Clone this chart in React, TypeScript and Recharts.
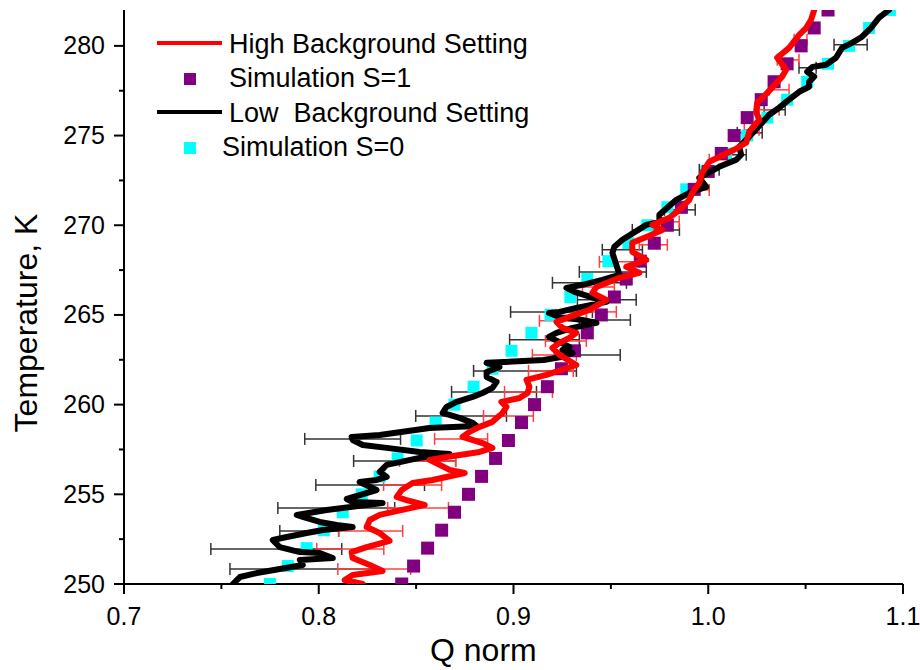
import React from 'react';
import { ComposedChart, Scatter, XAxis, YAxis, ErrorBar } from 'recharts';

// simulated points, one per kelvin
const simTemps = [250, 251, 252, 253, 254, 255, 256, 257, 258, 259, 260, 261, 262, 263, 264, 265, 266,
  267, 268, 269, 270, 271, 272, 273, 274, 275, 276, 277, 278, 279, 280, 281, 282];
const simS1Q = [0.8426, 0.8487, 0.8559, 0.8631, 0.8697, 0.8769, 0.8836, 0.8908, 0.8974, 0.9041, 0.9108,
  0.9174, 0.9246, 0.9313, 0.9379, 0.9451, 0.9518, 0.9579, 0.9651, 0.9723, 0.979, 0.9862, 0.9928, 1.0,
  1.0067, 1.0133, 1.02, 1.0272, 1.0338, 1.0405, 1.0477, 1.0544, 1.0615];
const simS0Q = [0.7749, 0.7841, 0.7938, 0.8026, 0.8123, 0.8221, 0.8313, 0.8405, 0.8503, 0.86, 0.8697,
  0.8795, 0.8892, 0.899, 0.9092, 0.919, 0.9292, 0.9379, 0.9487, 0.959, 0.9687, 0.979, 0.9887, 0.999,
  1.0092, 1.02, 1.0303, 1.0405, 1.0508, 1.0615, 1.0723, 1.0826, 1.0933];

// measured curves
const highBgQ = [0.8226, 0.8133, 0.8174, 0.8328, 0.8262, 0.8174, 0.8169, 0.8246, 0.8364, 0.8313,
  0.8246, 0.8262, 0.8313, 0.8544, 0.8451, 0.84, 0.8426, 0.8482, 0.8585, 0.8749,
  0.8672, 0.8621, 0.8569, 0.8656, 0.8826, 0.8892, 0.8841, 0.8738, 0.8774, 0.8826,
  0.8892, 0.8944, 0.8964, 0.8938, 0.9031, 0.9072, 0.9082, 0.9067, 0.9169, 0.9323,
  0.9236, 0.92, 0.9236, 0.9287, 0.9323, 0.9251, 0.9221, 0.9287, 0.939, 0.9477,
  0.9405, 0.9426, 0.9544, 0.9646, 0.9579, 0.9682, 0.961, 0.961, 0.9682, 0.9764,
  0.9713, 0.98, 0.9851, 0.9903, 0.9918, 0.9954, 0.9969, 1.0005, 1.0133, 1.0195,
  1.021, 1.0262, 1.0246, 1.0251, 1.0303, 1.0379, 1.04, 1.0354, 1.0415, 1.0467,
  1.0503, 1.0528, 1.0544];
const highBgT = [250.0, 250.22, 250.5, 250.73, 251.06, 251.45, 251.78, 252.06, 252.4, 252.84,
  253.18, 253.57, 253.85, 254.41, 254.68, 254.85, 255.24, 255.63, 255.8, 256.19,
  256.36, 256.64, 256.92, 257.08, 257.36, 257.59, 257.86, 258.2, 258.48, 258.76,
  259.04, 259.54, 259.87, 260.15, 260.37, 260.65, 260.99, 261.38, 261.66, 262.21,
  262.77, 263.16, 263.44, 263.72, 264.0, 264.28, 264.61, 264.89, 265.28, 265.84,
  266.23, 266.56, 267.07, 267.35, 267.68, 268.07, 268.52, 269.02, 269.35, 269.74,
  270.02, 270.41, 270.86, 271.42, 271.81, 272.36, 272.92, 273.54, 274.21, 274.6,
  275.21, 275.88, 276.32, 276.83, 277.38, 278.28, 278.67, 279.34, 279.89, 280.62,
  281.01, 281.46, 282.0];

const lowBgQ = [0.7559, 0.7595, 0.7682, 0.7918, 0.7903, 0.8072, 0.8005, 0.7903, 0.78, 0.7764,
  0.7836, 0.7938, 0.8021, 0.8174, 0.8092, 0.8005, 0.7918, 0.7887, 0.8041, 0.8328,
  0.8174, 0.8144, 0.821, 0.8297, 0.821, 0.8297, 0.8349, 0.8313, 0.8349, 0.8518,
  0.8672, 0.8518, 0.8349, 0.8226, 0.8174, 0.8169, 0.8313, 0.8569, 0.881, 0.879,
  0.8723, 0.8636, 0.8656, 0.8708, 0.879, 0.8841, 0.8892, 0.8913, 0.8862, 0.8862,
  0.8928, 0.8862, 0.9154, 0.9251, 0.9303, 0.9251, 0.9287, 0.9182,
  0.9221, 0.9303, 0.9426, 0.9354, 0.9236, 0.9182, 0.9236, 0.9323, 0.9477, 0.9313,
  0.9272, 0.9354, 0.9456, 0.9544, 0.9528, 0.9508, 0.9518, 0.9559, 0.9682, 0.9749,
  0.9749, 0.9836, 0.9903, 0.999, 0.9954, 1.0056, 1.0144, 1.0169, 1.0159, 1.021,
  1.0313, 1.0364, 1.04, 1.0467, 1.0518, 1.0518, 1.0544, 1.0508, 1.0536, 1.0605,
  1.0656, 1.0687, 1.0738, 1.079, 1.0836, 1.0877, 1.0928];
const lowBgT = [250.0, 250.39, 250.61, 251.06, 251.34, 251.45, 251.73, 251.78, 252.06, 252.45,
  252.62, 252.84, 253.01, 253.18, 253.29, 253.46, 253.74, 253.85, 254.13, 254.52,
  254.57, 254.74, 254.96, 255.24, 255.69, 255.8, 255.97, 256.25, 256.64, 257.03,
  257.25, 257.36, 257.59, 257.75, 258.03, 258.2, 258.31, 258.7, 258.81, 258.98,
  259.26, 259.54, 259.87, 260.15, 260.43, 260.65, 260.93, 261.27, 261.54, 261.82,
  262.1, 262.33, 262.49, 262.66, 262.88, 263.05, 263.22, 263.78,
  264.0, 264.28, 264.56, 264.72, 264.89, 265.11, 265.17, 265.39, 265.73, 266.29,
  266.51, 266.68, 266.95, 267.23, 267.79, 268.46, 268.8, 269.19, 270.02, 270.19,
  270.58, 271.42, 271.81, 272.14, 272.64, 273.26, 273.65, 273.93, 274.37, 274.93,
  276.16, 276.55, 276.88, 277.44, 277.72, 278.0, 278.28, 278.56, 278.83, 278.95,
  279.34, 279.89, 280.17, 280.51, 281.01, 281.57, 282.0];

// error bars (centre, half width)
const lowErrT = [250.84, 251.95, 252.96, 254.24, 255.52, 256.86, 258.09, 259.37, 260.71, 261.88, 262.77,
  263.61, 264.72, 265.17, 265.84, 266.79, 267.4, 268.63, 269.74, 270.86, 273.09, 273.93, 275.15,
  276.44, 278.78, 280.06];
const lowErrQ = [0.7903, 0.7782, 0.7951, 0.809, 0.8264, 0.8441, 0.8174, 0.8731, 0.89, 0.9059, 0.9379,
  0.9159, 0.9469, 0.9195, 0.9479, 0.939, 0.951, 0.9559, 0.9731, 0.9854, 1.0005, 1.0151, 1.0213,
  1.0341, 1.051, 1.0731];
const lowErr = [0.0359, 0.0336, 0.0151, 0.03, 0.0279, 0.0262, 0.0246, 0.0233, 0.0218, 0.0264, 0.0169,
  0.0179, 0.0131, 0.021, 0.0151, 0.019, 0.0172, 0.0103, 0.0121, 0.0079, 0.0051, 0.0044, 0.0064,
  0.0054, 0.0044, 0.0085];

const highErrT = [250.84, 251.95, 252.96, 254.24, 255.52, 256.86, 258.09, 259.37, 260.71, 261.88, 262.77,
  263.55, 264.67, 265.17, 266.56, 267.96, 268.91, 270.19, 271.97, 273.65, 275.32, 276.44, 277.55,
  279.22, 280.34];
const highErrQ = [0.8285, 0.8162, 0.8267, 0.851, 0.8482, 0.8559, 0.8731, 0.8974, 0.9077, 0.9192, 0.921,
  0.9269, 0.9254, 0.9451, 0.9436, 0.9544, 0.9718, 0.98, 0.9949, 1.0056, 1.0223, 1.0313, 1.0364,
  1.041, 1.0474];
const highErr = [0.0187, 0.0172, 0.0164, 0.0156, 0.0149, 0.0144, 0.0136, 0.0128, 0.0123, 0.0115, 0.0113,
  0.0105, 0.0121, 0.0077, 0.0082, 0.0103, 0.0072, 0.0051, 0.0056, 0.0051, 0.0038, 0.0051, 0.0051,
  0.0056, 0.0033];

const qTicks = [0.7, 0.75, 0.8, 0.85, 0.9, 0.95, 1.0, 1.05, 1.1];
const tTicks = [250, 252.5, 255, 257.5, 260, 262.5, 265, 267.5, 270, 272.5, 275, 277.5, 280];

const zip = (qs: number[], ts: number[], es?: number[]) =>
  qs.map((q, i) => ({ q, T: ts[i], e: es ? es[i] : 0 }));

const FONT = '"Liberation Sans", Arial, sans-serif';
const isMajorQ = (v: number) => Math.abs(v * 10 - Math.round(v * 10)) < 1e-6;
const isMajorT = (v: number) => Math.abs(v / 5 - Math.round(v / 5)) < 1e-6;

const BottomTick = (p: any) => {
  const v = p.payload.value;
  const major = isMajorQ(v);
  return (
    <g>
      <line x1={p.x} x2={p.x} y1={p.y} y2={p.y + (major ? 10 : 5)} stroke="#000" strokeWidth={2} />
      {major && (
        <text x={p.x} y={p.y + 41} textAnchor="middle" fontSize={25} fontFamily={FONT} fill="#000">
          {v.toFixed(1)}
        </text>
      )}
    </g>
  );
};

const TopTick = (p: any) => (
  <line x1={p.x} x2={p.x} y1={p.y} y2={p.y + 12} stroke="#000" strokeWidth={2} />
);

const LeftTick = (p: any) => {
  const v = p.payload.value;
  const major = isMajorT(v);
  return (
    <g>
      <line x1={p.x} x2={p.x - (major ? 10 : 5)} y1={p.y} y2={p.y} stroke="#000" strokeWidth={2} />
      {major && (
        <text x={p.x - 19} y={p.y + 8.5} textAnchor="end" fontSize={25} fontFamily={FONT} fill="#000">
          {v}
        </text>
      )}
    </g>
  );
};

const RightTick = (p: any) => (
  <line x1={p.x} x2={p.x - 6} y1={p.y} y2={p.y} stroke="#000" strokeWidth={2} />
);

const square = (color: string, size: number) => (p: any) =>
  <rect x={p.cx - size / 2} y={p.cy - size / 2} width={size} height={size} fill={color} />;

const noDot = () => <g />;

export default function App() {
  return (
    <div style={{ position: 'absolute', left: 0, top: 0, width: 920, height: 670, background: '#fff' }}>
      <ComposedChart width={920} height={670} margin={{ top: 10, right: 17, left: 0, bottom: 0 }}>
        <XAxis xAxisId="b" dataKey="q" type="number" domain={[0.7, 1.1]} ticks={qTicks} interval={0}
          allowDataOverflow height={86} tickSize={0} tickMargin={0} tickLine={false}
          axisLine={{ stroke: '#000', strokeWidth: 2 }} tick={BottomTick} />
        <XAxis xAxisId="t" orientation="top" type="number" domain={[0.7, 1.1]} ticks={qTicks} interval={0}
          allowDataOverflow height={0} tickSize={0} tickMargin={0} tickLine={false}
          axisLine={{ stroke: '#000', strokeWidth: 2 }} tick={TopTick} />
        <YAxis yAxisId="l" dataKey="T" type="number" domain={[250, 282]} ticks={tTicks} interval={0}
          allowDataOverflow width={124} tickSize={0} tickMargin={0} tickLine={false}
          axisLine={{ stroke: '#000', strokeWidth: 2 }} tick={LeftTick} />
        <YAxis yAxisId="r" orientation="right" type="number" domain={[250, 282]} ticks={tTicks} interval={0}
          allowDataOverflow width={0} tickSize={0} tickMargin={0} tickLine={false}
          axisLine={{ stroke: '#000', strokeWidth: 2 }} tick={RightTick} />

        <Scatter xAxisId="b" yAxisId="l" data={zip(simS0Q, simTemps)} shape={square('#00ffff', 12)}
          isAnimationActive={false} />
        <Scatter xAxisId="b" yAxisId="l" data={zip(simS1Q, simTemps)} shape={square('#800080', 13)}
          isAnimationActive={false} />

        <Scatter xAxisId="b" yAxisId="l" data={zip(lowErrQ, lowErrT, lowErr)} shape={noDot}
          isAnimationActive={false}>
          <ErrorBar dataKey="e" direction="x" width={6} stroke="#333" strokeWidth={1.5} isAnimationActive={false} />
        </Scatter>
        <Scatter xAxisId="b" yAxisId="l" data={zip(lowBgQ, lowBgT)} shape={noDot}
          line={{ stroke: '#000', strokeWidth: 6, strokeLinejoin: 'round', strokeLinecap: 'round' }}
          lineJointType="linear" isAnimationActive={false} />

        <Scatter xAxisId="b" yAxisId="l" data={zip(highErrQ, highErrT, highErr)} shape={noDot}
          isAnimationActive={false}>
          <ErrorBar dataKey="e" direction="x" width={6} stroke="#ff4040" strokeWidth={1.5} isAnimationActive={false} />
        </Scatter>
        <Scatter xAxisId="b" yAxisId="l" data={zip(highBgQ, highBgT)} shape={noDot}
          line={{ stroke: '#ff0000', strokeWidth: 6, strokeLinejoin: 'round', strokeLinecap: 'round' }}
          lineJointType="linear" isAnimationActive={false} />
      </ComposedChart>

      <svg width={920} height={670} style={{ position: 'absolute', left: 0, top: 0, pointerEvents: 'none' }}
        fontFamily={FONT}>
        <line x1={157} x2={222} y1={43} y2={43} stroke="#ff0000" strokeWidth={4} />
        <text x={229} y={53} fontSize={27}>High Background Setting</text>
        <rect x={184} y={73} width={12} height={12} fill="#800080" />
        <text x={229} y={87} fontSize={27}>Simulation S=1</text>
        <line x1={157} x2={222} y1={112} y2={112} stroke="#000" strokeWidth={4} />
        <text x={229} y={122} fontSize={27} style={{ whiteSpace: 'pre' }}>Low  Background Setting</text>
        <rect x={184} y={142} width={12} height={12} fill="#00ffff" />
        <text x={222} y={156} fontSize={27}>Simulation S=0</text>

        <text x={430} y={661} fontSize={32}>Q norm</text>
        <text transform="translate(37,323) rotate(-90)" textAnchor="middle" fontSize={32}>Temperature, K</text>
      </svg>
    </div>
  );
}
